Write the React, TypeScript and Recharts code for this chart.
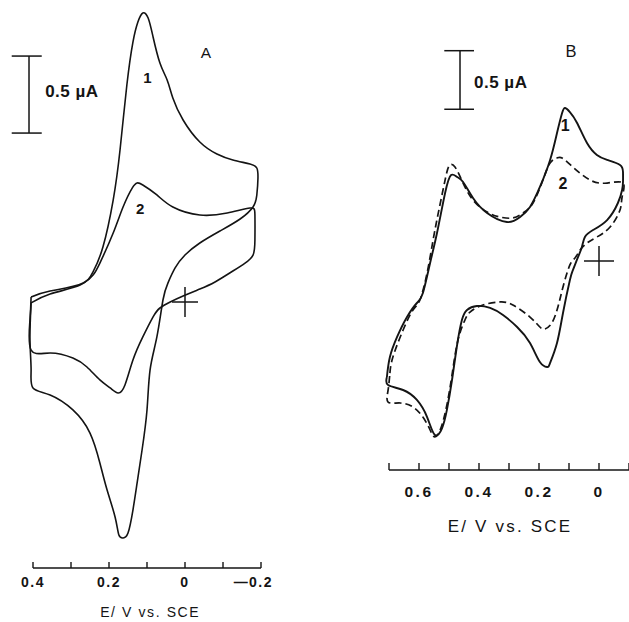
import { LineChart, Line, XAxis, YAxis, ReferenceLine, ReferenceDot, Label } from "recharts";

const INK = "#141414";
const FONT = '"Liberation Sans", Arial, Helvetica, sans-serif';

// cyclic voltammograms, [E (V vs. SCE), i (µA)]
const loopA1: [number, number][] = [
  [0.405, -0.006], [0.355, 0.052], [0.276, 0.11], [0.242, 0.195], [0.216, 0.357], [0.189, 0.662],
  [0.171, 0.987], [0.153, 1.409], [0.137, 1.688], [0.124, 1.818], [0.111, 1.877], [0.097, 1.844],
  [0.084, 1.721], [0.066, 1.552], [0.047, 1.442], [0.032, 1.325], [0.005, 1.182], [-0.039, 1.039],
  [-0.084, 0.961], [-0.126, 0.922], [-0.171, 0.896], [-0.189, 0.87], [-0.192, 0.805], [-0.189, 0.695],
  [-0.179, 0.617], [-0.145, 0.539], [-0.092, 0.461], [-0.039, 0.383], [0, 0.305], [0.026, 0.221],
  [0.045, 0.123], [0.058, 0.013], [0.074, -0.227], [0.092, -0.442], [0.1, -0.701], [0.113, -0.961],
  [0.126, -1.175], [0.137, -1.351], [0.15, -1.5], [0.163, -1.532], [0.174, -1.513], [0.184, -1.396],
  [0.205, -1.221], [0.224, -1.045], [0.25, -0.851], [0.295, -0.701], [0.355, -0.604], [0.4, -0.558],
  [0.405, -0.442], [0.408, -0.247], [0.405, -0.006],
];

const loopA2: [number, number][] = [
  [0.405, 0.032], [0.355, 0.071], [0.268, 0.123], [0.224, 0.253], [0.189, 0.448], [0.163, 0.617],
  [0.139, 0.74], [0.126, 0.773], [0.111, 0.76], [0.074, 0.695], [0.032, 0.617], [-0.039, 0.565],
  [-0.111, 0.578], [-0.171, 0.61], [-0.184, 0.565], [-0.184, 0.403], [-0.179, 0.305], [-0.158, 0.253],
  [-0.126, 0.201], [-0.079, 0.13], [-0.039, 0.084], [0.005, 0.039], [0.039, 0], [0.066, -0.039],
  [0.084, -0.097], [0.111, -0.227], [0.137, -0.377], [0.158, -0.539], [0.176, -0.591], [0.197, -0.558],
  [0.224, -0.506], [0.258, -0.422], [0.295, -0.364], [0.355, -0.331], [0.405, -0.312], [0.408, -0.117],
  [0.405, 0.032],
];

const loopB1: [number, number][] = [
  [0.707, -1.0], [0.697, -0.828], [0.673, -0.655], [0.64, -0.483], [0.607, -0.362], [0.587, -0.276],
  [0.563, -0.017], [0.54, 0.241], [0.513, 0.586], [0.493, 0.741], [0.473, 0.724], [0.453, 0.681],
  [0.42, 0.543], [0.373, 0.414], [0.307, 0.336], [0.263, 0.379], [0.23, 0.466], [0.197, 0.638],
  [0.163, 0.871], [0.14, 1.103], [0.123, 1.276], [0.113, 1.319], [0.097, 1.284], [0.073, 1.19],
  [0.04, 1.017], [0.007, 0.914], [-0.027, 0.871], [-0.07, 0.828], [-0.08, 0.767], [-0.08, 0.681],
  [-0.077, 0.612], [-0.063, 0.5], [-0.027, 0.353], [0.02, 0.267], [0.047, 0.207], [0.057, 0.121],
  [0.07, 0.034], [0.087, -0.078], [0.097, -0.164], [0.12, -0.448], [0.14, -0.707], [0.163, -0.879],
  [0.173, -0.914], [0.197, -0.871], [0.23, -0.707], [0.273, -0.569], [0.32, -0.466], [0.363, -0.405],
  [0.407, -0.388], [0.44, -0.422], [0.457, -0.509], [0.473, -0.724], [0.49, -1.026], [0.507, -1.284],
  [0.523, -1.44], [0.547, -1.5], [0.573, -1.345], [0.607, -1.198], [0.653, -1.112], [0.703, -1.069],
  [0.707, -1.0],
];

const loopB2: [number, number][] = [
  [0.697, -0.966], [0.687, -0.828], [0.653, -0.595], [0.62, -0.422], [0.597, -0.336], [0.573, -0.103],
  [0.553, 0.181], [0.537, 0.397], [0.52, 0.612], [0.507, 0.767], [0.497, 0.828], [0.48, 0.81],
  [0.453, 0.672], [0.42, 0.526], [0.373, 0.422], [0.33, 0.379], [0.287, 0.371], [0.253, 0.414],
  [0.22, 0.5], [0.187, 0.698], [0.163, 0.845], [0.14, 0.888], [0.123, 0.888], [0.087, 0.81],
  [0.03, 0.698], [-0.027, 0.672], [-0.08, 0.672], [-0.077, 0.552], [-0.07, 0.44], [-0.037, 0.293],
  [0.007, 0.207], [0.04, 0.155], [0.063, 0.095], [0.08, 0.026], [0.097, -0.034], [0.12, -0.224],
  [0.137, -0.397], [0.157, -0.534], [0.18, -0.586], [0.197, -0.569], [0.23, -0.483], [0.287, -0.379],
  [0.33, -0.353], [0.387, -0.379], [0.43, -0.44], [0.447, -0.509], [0.47, -0.681], [0.49, -0.983],
  [0.507, -1.241], [0.527, -1.44], [0.547, -1.517], [0.563, -1.457], [0.587, -1.345], [0.62, -1.259],
  [0.663, -1.224], [0.703, -1.216], [0.703, -1.112], [0.697, -0.966],
];

const ticksA = [0.4, 0.3, 0.2, 0.1, 0, -0.1, -0.2];
const labelsA = [0.4, 0.2, 0, -0.2];
const ticksB = [0.7, 0.6, 0.5, 0.4, 0.3, 0.2, 0.1, 0, -0.1];
const labelsB = [0.6, 0.4, 0.2, 0];

const toPoints = (loop: [number, number][]) => loop.map(([E, i]) => ({ E, i }));

type Note = { E: number; i: number; text: string; size: number; bold?: boolean; start?: boolean; spacing?: number };

type PanelProps = {
  left: number;
  width: number;
  margin: { top: number; right: number; bottom: number; left: number };
  xDomain: [number, number];
  yDomain: [number, number];
  ticks: number[];
  labels: number[];
  tickLen: number;
  labelDy: number;
  labelSize: number;
  labelSpacing: number;
  title: string;
  titleSize: number;
  titleDx: number;
  titleDy: number;
  titleSpacing: number;
  series: { data: { E: number; i: number }[]; dash?: string; stroke: number }[];
  bar: { E: number; capL: number; capR: number; top: number; bottom: number };
  notes: Note[];
  cross: { h: number; v: number };
};

function Panel(p: PanelProps) {
  const yBase = p.yDomain[0];
  const renderTick = (props: any) => {
    const { x, y, payload } = props;
    const v = payload.value as number;
    const show = p.labels.some((l) => Math.abs(l - v) < 1e-6);
    const mag = Math.abs(v) < 1e-9 ? "0" : Math.abs(v).toFixed(1);
    return (
      <g>
        <line x1={x} x2={x} y1={y} y2={y - p.tickLen} stroke={INK} strokeWidth={1.4} />
        {show && (
          <text x={x} y={y + p.labelDy} textAnchor="middle" fontSize={p.labelSize} fontWeight="bold" fill={INK} letterSpacing={p.labelSpacing} fontFamily={FONT}>
            {mag}
          </text>
        )}
        {show && v < -1e-9 && (
          <text x={x - p.labelSize * 0.95} y={y + p.labelDy} textAnchor="end" fontSize={p.labelSize} fontWeight="bold" fill={INK} fontFamily={FONT}>
            —
          </text>
        )}
      </g>
    );
  };

  return (
    <div style={{ position: "absolute", left: p.left, top: 0 }}>
      <LineChart width={p.width} height={622} margin={p.margin}>
        <XAxis
          type="number"
          dataKey="E"
          domain={p.xDomain}
          allowDataOverflow
          reversed
          ticks={p.ticks}
          interval={0}
          tickLine={false}
          axisLine={false}
          tickSize={0}
          tickMargin={0}
          tick={renderTick}
          height={30}
        >
          <Label
            position="insideBottom"
            content={({ viewBox }: any) => (
              <text
                x={viewBox.x + viewBox.width / 2 + p.titleDx}
                y={viewBox.y + p.titleDy}
                textAnchor="middle"
                fontSize={p.titleSize}
                letterSpacing={p.titleSpacing}
                fill={INK}
                fontFamily={FONT}
              >
                {p.title}
              </text>
            )}
          />
        </XAxis>
        <YAxis type="number" dataKey="i" domain={p.yDomain} allowDataOverflow hide />
        <ReferenceLine
          segment={[{ x: p.ticks[0], y: yBase }, { x: p.ticks[p.ticks.length - 1], y: yBase }]}
          stroke={INK}
          strokeWidth={1.5}
          ifOverflow="visible"
        />
        {p.series.map((s, k) => (
          <Line
            key={k}
            data={s.data}
            dataKey="i"
            type="natural"
            stroke={INK}
            strokeWidth={s.stroke}
            strokeDasharray={s.dash}
            dot={false}
            activeDot={false}
            isAnimationActive={false}
          />
        ))}
        <ReferenceLine segment={[{ x: p.bar.E, y: p.bar.top }, { x: p.bar.E, y: p.bar.bottom }]} stroke={INK} strokeWidth={1.5} ifOverflow="visible" />
        <ReferenceLine segment={[{ x: p.bar.capL, y: p.bar.top }, { x: p.bar.capR, y: p.bar.top }]} stroke={INK} strokeWidth={1.5} ifOverflow="visible" />
        <ReferenceLine segment={[{ x: p.bar.capL, y: p.bar.bottom }, { x: p.bar.capR, y: p.bar.bottom }]} stroke={INK} strokeWidth={1.5} ifOverflow="visible" />
        <ReferenceDot
          x={0}
          y={0}
          ifOverflow="visible"
          shape={(d: any) => (
            <g stroke={INK} strokeWidth={1.5}>
              <line x1={d.cx - p.cross.h} x2={d.cx + p.cross.h} y1={d.cy} y2={d.cy} />
              <line x1={d.cx} x2={d.cx} y1={d.cy - p.cross.v} y2={d.cy + p.cross.v} />
            </g>
          )}
        />
        {p.notes.map((n, k) => (
          <ReferenceDot
            key={"n" + k}
            x={n.E}
            y={n.i}
            ifOverflow="visible"
            shape={(d: any) => (
              <text
                x={d.cx}
                y={d.cy}
                textAnchor={n.start ? "start" : "middle"}
                dominantBaseline="central"
                fontSize={n.size}
                fontWeight={n.bold ? "bold" : "normal"}
                letterSpacing={n.spacing ?? 0}
                fill={INK}
                fontFamily={FONT}
              >
                {n.text}
              </text>
            )}
          />
        ))}
      </LineChart>
    </div>
  );
}

export default function App() {
  return (
    <div style={{ position: "absolute", left: 0, top: 0, width: 629, height: 622, background: "#fff", fontFamily: FONT }}>
      <Panel
        left={0}
        width={300}
        margin={{ top: 1.7, right: 20, bottom: 24.04, left: 6.4 }}
        xDomain={[-0.25, 0.47]}
        yDomain={[-1.727, 1.95]}
        ticks={ticksA}
        labels={labelsA}
        tickLen={6}
        labelDy={19}
        labelSize={14}
        labelSpacing={1.5}
        title="E/ V vs. SCE"
        titleSize={14}
        titleDx={7}
        titleDy={49}
        titleSpacing={1.6}
        series={[
          { data: toPoints(loopA1), stroke: 1.6 },
          { data: toPoints(loopA2), stroke: 1.6 },
        ]}
        bar={{ E: 0.4105, capL: 0.456, capR: 0.377, top: 1.597, bottom: 1.097 }}
        notes={[
          { E: -0.055, i: 1.623, text: "A", size: 15.5 },
          { E: 0.099, i: 1.458, text: "1", size: 15, bold: true },
          { E: 0.118, i: 0.607, text: "2", size: 15, bold: true },
          { E: 0.368, i: 1.367, text: "0.5  µA", size: 17, bold: true, start: true, spacing: 0.5 },
        ]}
        cross={{ h: 13, v: 15 }}
      />
      <Panel
        left={330}
        width={299}
        margin={{ top: 5.8, right: 0, bottom: 121.97, left: 53 }}
        xDomain={[-0.1, 0.72]}
        yDomain={[-1.802, 2.2]}
        ticks={ticksB}
        labels={labelsB}
        tickLen={7}
        labelDy={27}
        labelSize={15.5}
        labelSpacing={2.5}
        title="E/ V vs. SCE"
        titleSize={17}
        titleDx={4}
        titleDy={62}
        titleSpacing={2.2}
        series={[
          { data: toPoints(loopB1), stroke: 1.9 },
          { data: toPoints(loopB2), stroke: 1.7, dash: "7 4" },
        ]}
        bar={{ E: 0.4633, capL: 0.5157, capR: 0.4167, top: 1.813, bottom: 1.308 }}
        notes={[
          { E: 0.0933, i: 1.81, text: "B", size: 16.5 },
          { E: 0.113, i: 1.164, text: "1", size: 16, bold: true },
          { E: 0.12, i: 0.672, text: "2", size: 16, bold: true },
          { E: 0.4167, i: 1.539, text: "0.5  µA", size: 17, bold: true, start: true, spacing: 0.5 },
        ]}
        cross={{ h: 15, v: 15 }}
      />
    </div>
  );
}
